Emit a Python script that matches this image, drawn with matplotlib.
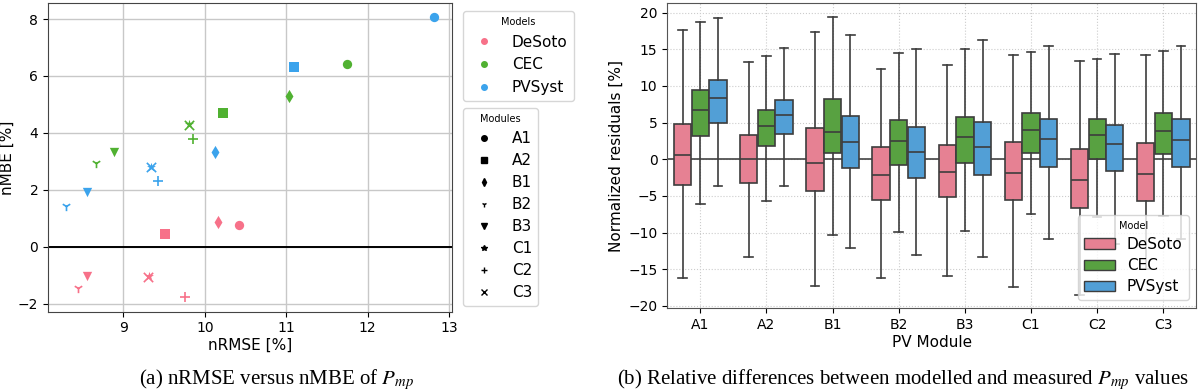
import matplotlib
matplotlib.use('Agg')
import matplotlib.pyplot as plt
from matplotlib.lines import Line2D
from matplotlib.patches import Patch
import seaborn as sns

models = ['DeSoto', 'CEC', 'PVSyst']
modules = ['A1', 'A2', 'B1', 'B2', 'B3', 'C1', 'C2', 'C3']
markers = ['o', 's', 'd', '1', 'v', '*', '+', 'x']

# (a) nRMSE / nMBE per model, one value per module
nrmse = {
    'DeSoto': [10.42, 9.51, 10.16, 8.44, 8.55, 9.31, 9.76, 9.30],
    'CEC':    [11.75, 10.22, 11.03, 8.66, 8.88, 9.81, 9.86, 9.81],
    'PVSyst': [12.81, 11.10, 10.13, 8.30, 8.55, 9.34, 9.43, 9.34],
}
nmbe = {
    'DeSoto': [0.77, 0.46, 0.88, -1.44, -1.03, -1.03, -1.76, -1.05],
    'CEC':    [6.41, 4.69, 5.28, 2.94, 3.32, 4.30, 3.78, 4.28],
    'PVSyst': [8.08, 6.33, 3.33, 1.42, 1.93, 2.81, 2.30, 2.81],
}

# (b) box stats per model: whisker low, Q1, median, Q3, whisker high
box_stats = {
    'DeSoto': [(-16.2, -3.5, 0.64, 4.83, 17.6), (-13.35, -3.28, 0.09, 3.33, 13.3),
               (-17.27, -4.37, -0.55, 4.33, 17.4), (-16.26, -5.51, -2.19, 1.64, 12.3),
               (-15.95, -5.19, -1.73, 2.0, 12.8), (-17.4, -5.6, -1.91, 2.32, 14.21),
               (-18.5, -6.61, -2.82, 1.46, 13.44), (-15.0, -5.69, -2.0, 2.23, 14.21)],
    'CEC':    [(-6.1, 3.19, 6.74, 9.43, 18.7), (-5.69, 1.78, 4.51, 6.74, 14.12),
               (-10.3, 0.82, 3.69, 8.2, 19.41), (-9.93, -0.73, 2.46, 5.42, 14.53),
               (-9.75, -0.46, 3.05, 5.79, 15.08), (-7.47, 0.82, 4.01, 6.29, 14.58),
               (-7.9, 0.05, 3.28, 5.56, 13.71), (-7.7, 0.68, 3.92, 6.29, 14.81)],
    'PVSyst': [(-3.6, 5.01, 8.38, 10.75, 19.3), (-3.6, 3.42, 6.01, 8.11, 15.17),
               (-12.16, -1.23, 2.37, 5.97, 16.95), (-13.08, -2.55, 1.05, 4.46, 14.99),
               (-13.26, -2.1, 1.73, 5.15, 16.26), (-10.93, -1.09, 2.78, 5.47, 15.44),
               (-11.5, -1.59, 2.05, 4.69, 14.3), (-10.93, -1.09, 2.6, 5.56, 15.44)],
}

plt.rcParams['font.family'] = 'DejaVu Sans'
plt.rcParams['font.size'] = 10
plt.rcParams['axes.labelsize'] = 11
plt.rcParams['mathtext.fontset'] = 'stix'

colors = sns.color_palette('husl', 3)
box_colors = [sns.desaturate(c, 0.75) for c in colors]
edge = '#3d3d3d'

fig = plt.figure(figsize=(12, 3.92), dpi=100)
ax1 = fig.add_axes([0.040, 0.205, 0.337, 0.787])
ax2 = fig.add_axes([0.556, 0.214, 0.441, 0.778])

# ---- (a) scatter
for m, c in zip(models, colors):
    for i, mk in enumerate(markers):
        ax1.scatter(nrmse[m][i], nmbe[m][i], marker=mk, color=c, s=45,
                    linewidths=1.2 if mk in ('1', '+', 'x') else 0, zorder=3)
ax1.axhline(0, color='black', lw=1.4, zorder=2)
ax1.set_xlim(8.075, 13.04)
ax1.set_ylim(-2.28, 8.56)
ax1.set_xticks([9, 10, 11, 12, 13])
ax1.set_yticks([-2, 0, 2, 4, 6, 8])
ax1.grid(True, color='#c8c8c8', lw=1)
ax1.set_axisbelow(True)
ax1.set_xlabel('nRMSE [%]', labelpad=2)
ax1.set_ylabel('nMBE [%]', labelpad=2)
for s in ax1.spines.values():
    s.set_color('#444444')

h_models = [Line2D([], [], ls='', marker='o', ms=4, color=c) for c in colors]
leg1 = fig.legend(h_models, models, title='Models', loc='upper left',
                  bbox_to_anchor=(463 / 1200, 1 - 11 / 392), borderaxespad=0,
                  fontsize=11, title_fontsize=7)
h_mods = [Line2D([], [], ls='', marker=mk, ms=4, color='black') for mk in markers]
leg2 = fig.legend(h_mods, modules, title='Modules', loc='upper left',
                  bbox_to_anchor=(463 / 1200, 1 - 108 / 392), borderaxespad=0,
                  fontsize=11, title_fontsize=7, labelspacing=0.46)

# ---- (b) boxes
width = 0.8 / 3
for j, (m, bc) in enumerate(zip(models, box_colors)):
    stats = []
    for k, (lo, q1, med, q3, hi) in enumerate(box_stats[m]):
        stats.append({'whislo': lo, 'q1': q1, 'med': med, 'q3': q3, 'whishi': hi,
                      'fliers': [], 'label': modules[k]})
    pos = [k + (j - 1) * width for k in range(len(modules))]
    ax2.bxp(stats, positions=pos, widths=width * 0.98, patch_artist=True,
            showfliers=False, manage_ticks=False,
            boxprops=dict(facecolor=bc, edgecolor=edge, lw=1.2),
            medianprops=dict(color=edge, lw=1.2),
            whiskerprops=dict(color=edge, lw=1.2),
            capprops=dict(color=edge, lw=1.2), zorder=3)
ax2.axhline(0, color='#444444', lw=1.2, zorder=2)
ax2.set_xticks(range(len(modules)))
ax2.set_xticklabels(modules)
ax2.set_xlim(-0.5, len(modules) - 0.5)
ax2.set_ylim(-20.3, 21.3)
ax2.set_yticks([-20, -15, -10, -5, 0, 5, 10, 15, 20])
ax2.grid(True, ls=':', color='#cccccc', lw=0.8)
ax2.set_axisbelow(True)
ax2.set_xlabel('PV Module', labelpad=2)
ax2.set_ylabel('Normalized residuals [%]', labelpad=3)
for s in ax2.spines.values():
    s.set_color('#555555')
h_box = [Patch(facecolor=bc, edgecolor=edge) for bc in box_colors]
ax2.legend(h_box, models, title='Model', loc='lower right', fontsize=11,
           title_fontsize=7, labelspacing=0.4)

# captions
fig.text(277 / 1200, 1 - 380 / 392, r'(a) nRMSE versus nMBE of $P_{mp}$',
         ha='center', va='center', family='Liberation Serif', fontsize=15)
fig.text(903 / 1200, 1 - 380 / 392,
         r'(b) Relative differences between modelled and measured $P_{mp}$ values',
         ha='center', va='center', family='Liberation Serif', fontsize=15)

fig.savefig('out.png', dpi=100)
